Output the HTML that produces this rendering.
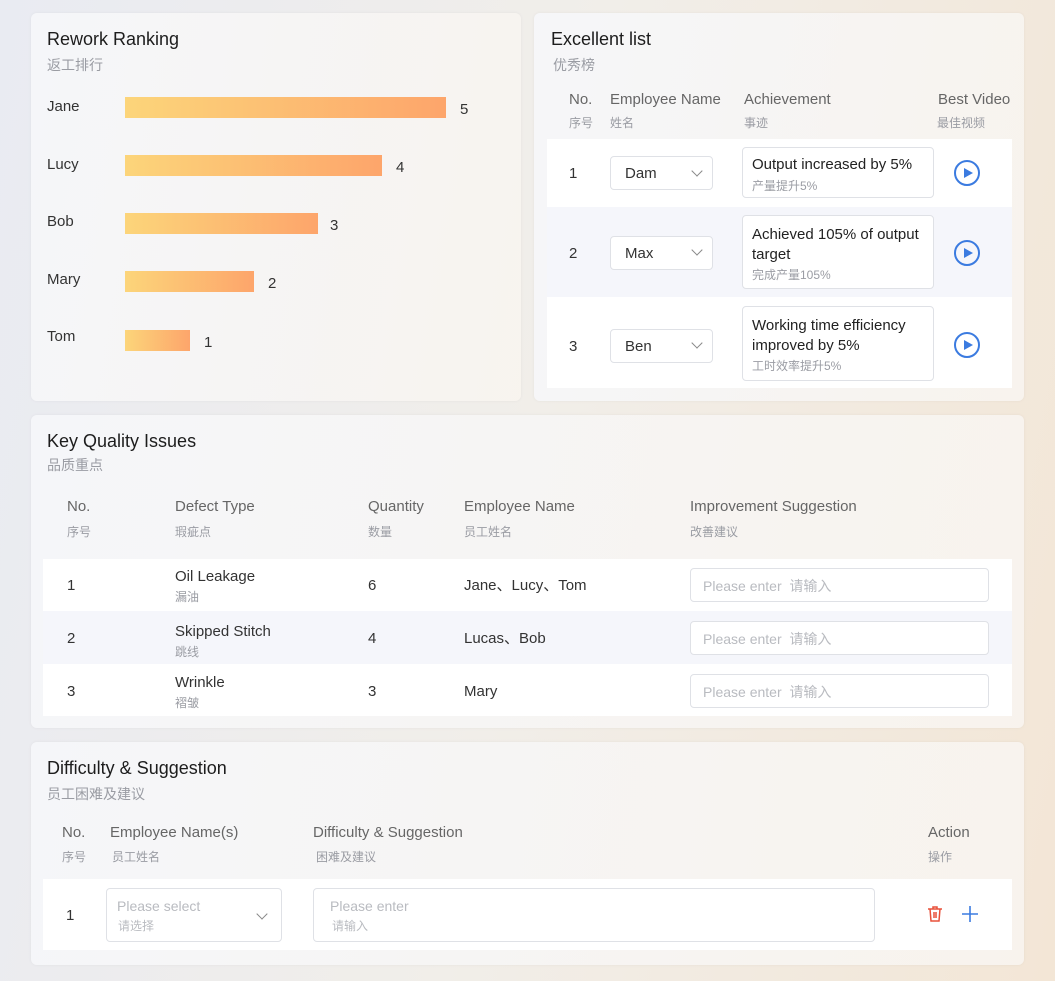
<!DOCTYPE html>
<html><head><meta charset="utf-8"><style>
*{margin:0;padding:0;box-sizing:border-box}
body{width:1055px;height:981px;position:relative;overflow:hidden;font-family:"Liberation Sans","Noto Sans CJK SC",sans-serif;background:linear-gradient(100deg,#e9ebf2 0%,#f1eee9 50%,#f3e6d6 100%);color:#222}
.p{position:absolute;border-radius:6px;background:linear-gradient(100deg,rgba(246,247,250,.92),rgba(248,244,239,.92));box-shadow:0 0 3px rgba(0,0,0,.05)}
.a{position:absolute;white-space:nowrap;line-height:18px}
.t{font-size:18px;color:#1d1d1d;line-height:22px}
.s{font-size:14px;color:#9a9ca3}
.h{font-size:15px;color:#666}
.hs{font-size:12px;color:#9a9ca3}
.bar{position:absolute;height:21px;background:linear-gradient(90deg,#fcd57a,#fda56b)}
.n{font-size:15px;color:#333}
.row{position:absolute}
.box{position:absolute;background:#fff;border:1px solid #dfe1e6;border-radius:4px}
.chev{position:absolute;width:8px;height:8px;border-right:1.3px solid #888;border-bottom:1.3px solid #888;transform:rotate(45deg)}
.play{position:absolute;width:26px;height:26px;border:2px solid #3b7be0;border-radius:50%}
.play:after{content:"";position:absolute;left:8px;top:6px;border-left:9px solid #3b7be0;border-top:5px solid transparent;border-bottom:5px solid transparent}
.ph{color:#b9bbc0;font-size:14px}
</style></head><body>

<div class="p" style="left:31px;top:13px;width:490px;height:388px"></div>
<div class="p" style="left:534px;top:13px;width:490px;height:388px"></div>
<div class="p" style="left:31px;top:415px;width:993px;height:313px"></div>
<div class="p" style="left:31px;top:742px;width:993px;height:223px"></div>

<div class="a t" style="left:47px;top:28px">Rework Ranking</div>
<div class="a s" style="left:47px;top:56px">返工排行</div>
<div class="a n" style="left:47px;top:98px">Jane</div>
<div class="bar" style="left:125px;top:97px;width:321px"></div><div class="a n" style="left:460px;top:101px">5</div>
<div class="a n" style="left:47px;top:156px">Lucy</div>
<div class="bar" style="left:125px;top:155px;width:257px"></div><div class="a n" style="left:396px;top:159px">4</div>
<div class="a n" style="left:47px;top:213px">Bob</div>
<div class="bar" style="left:125px;top:213px;width:193px"></div><div class="a n" style="left:330px;top:217px">3</div>
<div class="a n" style="left:47px;top:328px">Tom</div>
<div class="a n" style="left:47px;top:271px">Mary</div>
<div class="bar" style="left:125px;top:271px;width:129px"></div><div class="a n" style="left:268px;top:275px">2</div>
<div class="bar" style="left:125px;top:330px;width:65px"></div><div class="a n" style="left:204px;top:334px">1</div>

<div class="a t" style="left:551px;top:28px">Excellent list</div>
<div class="a s" style="left:553px;top:56px">优秀榜</div>
<div class="a h" style="left:569px;top:91px">No.</div><div class="a hs" style="left:569px;top:114px">序号</div>
<div class="a h" style="left:610px;top:91px">Employee Name</div><div class="a hs" style="left:610px;top:114px">姓名</div>
<div class="a h" style="left:744px;top:91px">Achievement</div><div class="a hs" style="left:744px;top:114px">事迹</div>
<div class="a h" style="left:938px;top:91px">Best Video</div><div class="a hs" style="left:937px;top:114px">最佳视频</div>
<div class="row" style="left:547px;top:139px;width:465px;height:68px;background:#fff"></div>
<div class="row" style="left:547px;top:207px;width:465px;height:90px;background:#f5f6fb"></div>
<div class="row" style="left:547px;top:297px;width:465px;height:91px;background:#fff"></div>

<div class="a n" style="left:569px;top:165px">1</div>
<div class="box" style="left:610px;top:156px;width:103px;height:34px"></div><div class="a n" style="left:625px;top:165px">Dam</div><div class="chev" style="left:693px;top:167px"></div>
<div class="box" style="left:742px;top:147px;width:192px;height:51px"></div>
<div class="a n" style="left:752px;top:156px;color:#222">Output increased by 5%</div><div class="a hs" style="left:752px;top:177px">产量提升5%</div>
<div class="play" style="left:954px;top:160px"></div>

<div class="a n" style="left:569px;top:245px">2</div>
<div class="box" style="left:610px;top:236px;width:103px;height:34px"></div><div class="a n" style="left:625px;top:245px">Max</div><div class="chev" style="left:693px;top:246px"></div>
<div class="box" style="left:742px;top:215px;width:192px;height:74px"></div>
<div class="a n" style="left:752px;top:225px;color:#222;line-height:20px">Achieved 105% of output<br>target</div><div class="a hs" style="left:752px;top:266px">完成产量105%</div>
<div class="play" style="left:954px;top:240px"></div>

<div class="a n" style="left:569px;top:338px">3</div>
<div class="box" style="left:610px;top:329px;width:103px;height:34px"></div><div class="a n" style="left:625px;top:338px">Ben</div><div class="chev" style="left:693px;top:339px"></div>
<div class="box" style="left:742px;top:306px;width:192px;height:75px"></div>
<div class="a n" style="left:752px;top:316px;color:#222;line-height:20px">Working time efficiency<br>improved by 5%</div><div class="a hs" style="left:752px;top:357px">工时效率提升5%</div>
<div class="play" style="left:954px;top:332px"></div>

<div class="a t" style="left:47px;top:430px">Key Quality Issues</div>
<div class="a s" style="left:47px;top:456px">品质重点</div>
<div class="a h" style="left:67px;top:498px">No.</div><div class="a hs" style="left:67px;top:523px">序号</div>
<div class="a h" style="left:175px;top:498px">Defect Type</div><div class="a hs" style="left:175px;top:523px">瑕疵点</div>
<div class="a h" style="left:368px;top:498px">Quantity</div><div class="a hs" style="left:368px;top:523px">数量</div>
<div class="a h" style="left:464px;top:498px">Employee Name</div><div class="a hs" style="left:464px;top:523px">员工姓名</div>
<div class="a h" style="left:690px;top:498px">Improvement Suggestion</div><div class="a hs" style="left:690px;top:523px">改善建议</div>
<div class="row" style="left:43px;top:559px;width:969px;height:52px;background:#fff"></div>
<div class="row" style="left:43px;top:611px;width:969px;height:53px;background:#f5f6fb"></div>
<div class="row" style="left:43px;top:664px;width:969px;height:52px;background:#fff"></div>

<div class="a n" style="left:67px;top:577px">1</div><div class="a n" style="left:175px;top:568px">Oil Leakage</div><div class="a hs" style="left:175px;top:588px">漏油</div>
<div class="a n" style="left:368px;top:577px">6</div><div class="a n" style="left:464px;top:577px">Jane、Lucy、Tom</div>
<div class="box" style="left:690px;top:568px;width:299px;height:34px"></div><div class="a ph" style="left:703px;top:577px">Please enter&nbsp; 请输入</div>

<div class="a n" style="left:67px;top:630px">2</div><div class="a n" style="left:175px;top:623px">Skipped Stitch</div><div class="a hs" style="left:175px;top:643px">跳线</div>
<div class="a n" style="left:368px;top:630px">4</div><div class="a n" style="left:464px;top:630px">Lucas、Bob</div>
<div class="box" style="left:690px;top:621px;width:299px;height:34px"></div><div class="a ph" style="left:703px;top:630px">Please enter&nbsp; 请输入</div>

<div class="a n" style="left:67px;top:683px">3</div><div class="a n" style="left:175px;top:674px">Wrinkle</div><div class="a hs" style="left:175px;top:694px">褶皱</div>
<div class="a n" style="left:368px;top:683px">3</div><div class="a n" style="left:464px;top:683px">Mary</div>
<div class="box" style="left:690px;top:674px;width:299px;height:34px"></div><div class="a ph" style="left:703px;top:683px">Please enter&nbsp; 请输入</div>

<div class="a t" style="left:47px;top:757px">Difficulty &amp; Suggestion</div>
<div class="a s" style="left:47px;top:785px">员工困难及建议</div>
<div class="a h" style="left:62px;top:824px">No.</div><div class="a hs" style="left:62px;top:848px">序号</div>
<div class="a h" style="left:110px;top:824px">Employee Name(s)</div><div class="a hs" style="left:112px;top:848px">员工姓名</div>
<div class="a h" style="left:313px;top:824px">Difficulty &amp; Suggestion</div><div class="a hs" style="left:316px;top:848px">困难及建议</div>
<div class="a h" style="left:928px;top:824px">Action</div><div class="a hs" style="left:928px;top:848px">操作</div>
<div class="row" style="left:43px;top:879px;width:969px;height:71px;background:#fff"></div>
<div class="a n" style="left:66px;top:907px">1</div>
<div class="box" style="left:106px;top:888px;width:176px;height:54px"></div>
<div class="a ph" style="left:117px;top:897px">Please select</div><div class="a hs" style="left:118px;top:917px;color:#b9bbc0">请选择</div>
<div class="chev" style="left:258px;top:910px"></div>
<div class="box" style="left:313px;top:888px;width:562px;height:54px"></div>
<div class="a ph" style="left:330px;top:897px">Please enter</div><div class="a hs" style="left:332px;top:917px;color:#b9bbc0">请输入</div>
<svg class="a" style="left:926px;top:905px" width="18" height="18" viewBox="0 0 18 18" fill="none" stroke="#e8503a" stroke-width="1.5"><path d="M2 4h14M7 4V2h4v2M4 4l1 12h8l1-12M8 7v6M10 7v6"/></svg>
<svg class="a" style="left:961px;top:905px" width="18" height="18" viewBox="0 0 18 18" stroke="#3b7be0" stroke-width="1.6"><path d="M9 1v16M1 9h16"/></svg>
</body></html>
